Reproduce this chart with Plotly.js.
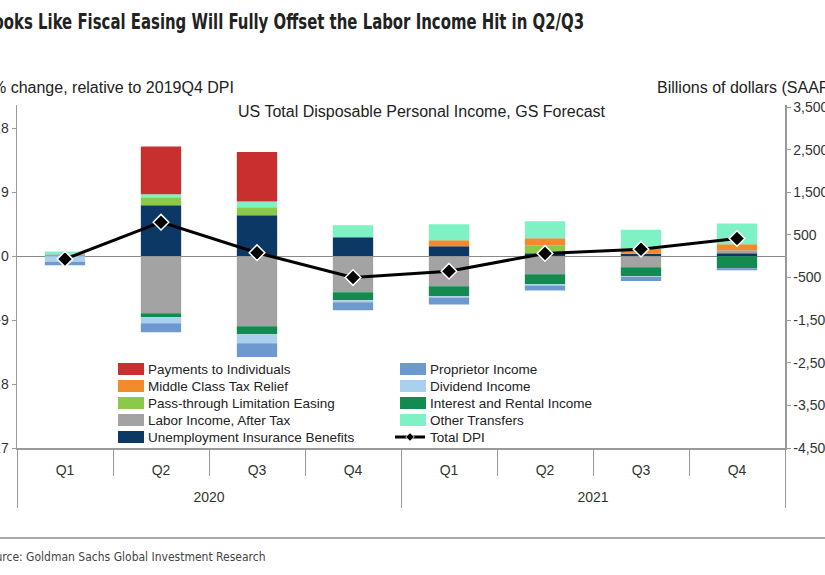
<!DOCTYPE html>
<html>
<head>
<meta charset="utf-8">
<script src="https://cdn.plot.ly/plotly-3.0.1.min.js"></script>
<style>
  html, body { margin:0; padding:0; background:#fff; overflow:hidden; }
  #wrap { position:relative; width:825px; height:575px; overflow:hidden; }
  #chart { position:absolute; left:-30px; top:0; width:880px; height:575px; }
</style>
</head>
<body>
<div id="wrap"><div id="chart"></div></div>
<script>
// ---- data (billions of dollars, SAAR, change vs 2019Q4) ----
const years    = ['2020','2020','2020','2020','2021','2021','2021','2021'];
const quarters = ['Q1','Q2','Q3','Q4','Q1','Q2','Q3','Q4'];

const unemploymentBenefits = [0, 1195, 960, 445, 234, 70, 60, 70];
const laborIncome          = [50, -1336, -1640, -844, -703, -420, -258, 70];
const passThrough          = [0, 188, 188, 0, 0, 190, 0, 0];
const middleClassRelief    = [0, 0, 0, 0, 140, 160, 117, 140];
const otherTransfers       = [60, 70, 140, 281, 375, 400, 445, 490];
const paymentsToIndividuals= [0, 1125, 1160, 0, 0, 0, 0, 0];
const interestRental       = [0, -94, -188, -188, -234, -234, -211, -280];
const dividendIncome       = [-130, -140, -211, -47, -30, -30, -20, 0];
const proprietorIncome     = [-80, -211, -328, -188, -164, -117, -94, -47];
// total DPI, % change relative to 2019Q4 DPI
const totalDPI             = [-0.4, 4.8, 0.5, -3.0, -2.1, 0.4, 1.0, 2.5];

const leftTickVals  = [18, 9, 0, -9, -18, -27];
const leftTickText  = ['18', '9', '0', '-9', '-18', '-27'];
const rightTickVals = [3500, 2500, 1500, 500, -500, -1500, -2500, -3500, -4500];
const rightTickText = ['3,500', '2,500', '1,500', '500', '-500', '-1,500', '-2,500', '-3,500', '-4,500'];

// ---- styling ----
const FONT = 'Liberation Sans, Arial, sans-serif';
const NARROW = 'DejaVu Sans Condensed, Liberation Sans Narrow, Arial Narrow, Liberation Sans, sans-serif';
const x = [years, quarters];

function bar(name, y, color, legend, rank) {
  return {
    type: 'bar', name: name, x: x, y: y, yaxis: 'y',
    marker: { color: color, line: { width: 0 } },
    legend: legend, legendrank: rank, hoverinfo: 'name+y'
  };
}

const traces = [
  bar('Unemployment Insurance Benefits', unemploymentBenefits, '#0c3866', 'legend', 5),
  bar('Labor Income, After Tax', laborIncome, '#a3a3a3', 'legend', 4),
  bar('Pass-through Limitation Easing', passThrough, '#8cc84a', 'legend', 3),
  bar('Middle Class Tax Relief', middleClassRelief, '#f28a2e', 'legend', 2),
  bar('Other Transfers', otherTransfers, '#7ef2c4', 'legend2', 4),
  bar('Payments to Individuals', paymentsToIndividuals, '#c83030', 'legend', 1),
  bar('Interest and Rental Income', interestRental, '#138a50', 'legend2', 3),
  bar('Dividend Income', dividendIncome, '#a9d0ee', 'legend2', 2),
  bar('Proprietor Income', proprietorIncome, '#6e99cf', 'legend2', 1),
  {
    type: 'scatter', mode: 'lines+markers', name: 'Total DPI',
    x: x, y: totalDPI, yaxis: 'y2',
    line: { color: '#000', width: 3 },
    marker: { symbol: 'diamond', size: 12, color: '#000', line: { color: '#fff', width: 1.5 } },
    legend: 'legend2', legendrank: 5
  }
];

const layout = {
  width: 880, height: 575,
  margin: { l: 47, r: 65, t: 105, b: 127 },
  paper_bgcolor: '#fff', plot_bgcolor: '#fff',
  font: { family: FONT, size: 14, color: '#333' },
  barmode: 'relative', bargap: 0.58,
  showlegend: true,
  title: {
    text: 'Looks Like Fiscal Easing Will Fully Offset the Labor Income Hit in Q2/Q3',
    xref: 'container', x: 0.016, xanchor: 'left',
    yref: 'container', y: 0.962, yanchor: 'middle',
    font: { family: NARROW, size: 21, weight: 'bold', color: '#222' }
  },
  xaxis: {
    type: 'multicategory',
    showline: true, linecolor: '#999', linewidth: 1.5,
    ticks: 'outside', tickson: 'boundaries', ticklen: 26, tickcolor: '#999', tickwidth: 1,
    ticklabelstandoff: 9,
    showdividers: true, dividercolor: '#999', dividerwidth: 1,
    tickfont: { size: 14, color: '#333' },
    showgrid: false, zeroline: false, fixedrange: true
  },
  yaxis: {
    side: 'right', range: [-4500, 3550],
    tickmode: 'array', tickvals: rightTickVals, ticktext: rightTickText,
    ticks: 'outside', ticklen: 4, tickcolor: '#999',
    showline: true, linecolor: '#999', linewidth: 1.5,
    showgrid: false, zeroline: true, zerolinecolor: '#888', zerolinewidth: 1.2,
    tickfont: { size: 14, color: '#333' }, fixedrange: true
  },
  yaxis2: {
    side: 'left', overlaying: 'y', range: [-27, 27 * 3550 / 4500],
    tickmode: 'array', tickvals: leftTickVals, ticktext: leftTickText,
    ticks: 'outside', ticklen: 4, tickcolor: '#999',
    showline: true, linecolor: '#999', linewidth: 1.5,
    showgrid: false, zeroline: false,
    tickfont: { size: 14, color: '#333' }, fixedrange: true
  },
  legend: {
    x: 0.1185, xanchor: 'left', y: 0.275, yanchor: 'top',
    orientation: 'v', traceorder: 'normal', bgcolor: 'rgba(0,0,0,0)',
    font: { size: 13.5, color: '#222' }, tracegroupgap: 0, itemclick: false
  },
  legend2: {
    x: 0.4857, xanchor: 'left', y: 0.275, yanchor: 'top',
    orientation: 'v', traceorder: 'normal', bgcolor: 'rgba(0,0,0,0)',
    font: { size: 13.5, color: '#222' }, tracegroupgap: 0, itemclick: false
  },
  annotations: [
    { text: '% change, relative to 2019Q4 DPI', xref: 'paper', yref: 'paper',
      x: -0.0358, y: 1.052, xanchor: 'left', yanchor: 'middle', showarrow: false,
      font: { size: 16, color: '#222' } },
    { text: 'Billions of dollars (SAAR)', xref: 'paper', yref: 'paper',
      x: 0.8307, y: 1.052, xanchor: 'left', yanchor: 'middle', showarrow: false,
      font: { size: 16, color: '#222' } },
    { text: 'US Total Disposable Personal Income, GS Forecast', xref: 'paper', yref: 'paper',
      x: 0.527, y: 0.98, xanchor: 'center', yanchor: 'middle', showarrow: false,
      font: { size: 16, color: '#222' } },
    { text: 'Source: Goldman Sachs Global Investment Research', xref: 'paper', yref: 'paper',
      x: -0.048, y: -0.318, xanchor: 'left', yanchor: 'middle', showarrow: false,
      font: { family: NARROW, size: 12, color: '#444' } }
  ],
  shapes: [
    { type: 'line', xref: 'paper', yref: 'paper', x0: -0.1, x1: 1.1, y0: -0.2624, y1: -0.2624,
      line: { color: '#a8a8a8', width: 2 } }
  ]
};

Plotly.newPlot('chart', traces, layout, { displayModeBar: false, staticPlot: true }).then(function (gd) {
  // condensed headline like the original
  const t = gd.querySelector('text.gtitle');
  if (t) { t.setAttribute('textLength', '600'); t.setAttribute('lengthAdjust', 'spacingAndGlyphs'); }
  // year labels a little lower, dividers longer
  gd.querySelectorAll('g.xtick2 text').forEach(function (el) {
    el.setAttribute('transform', (el.getAttribute('transform') || '') + ' translate(0,18)');
  });
  gd.querySelectorAll('path.xdivider').forEach(function (p) {
    const d = p.getAttribute('d') || '';
    p.setAttribute('d', d.replace(/v([-\d.]+)/, function (m, v) { return 'v' + (parseFloat(v) + 20); }));
  });
  // tighter legend rows, wider swatches, small diamond for the line entry
  ['legend', 'legend2'].forEach(function (id) {
    const g = gd.querySelector('g.' + id);
    if (!g) return;
    const items = g.querySelectorAll('g.traces');
    if (!items.length) return;
    const ty0 = parseFloat(/translate\(([-\d.]+),\s*([-\d.]+)\)/.exec(items[0].getAttribute('transform'))[2]);
    items.forEach(function (it, i) {
      const m = /translate\(([-\d.]+),\s*([-\d.]+)\)/.exec(it.getAttribute('transform') || '');
      if (!m) return;
      it.setAttribute('transform', 'translate(' + parseFloat(m[1]) + ',' + (ty0 + i * 17) + ')');
      it.querySelectorAll('g.legendpoints path').forEach(function (p) {
        if ((p.getAttribute('d') || '') === 'M6,6H-6V-6H6Z') {
          p.setAttribute('d', 'M16,6H-10V-6H16Z');
        } else if (p.classList.contains('scatterpts')) {
          p.setAttribute('transform', (p.getAttribute('transform') || '') + ' scale(0.55)');
        }
      });
    });
  });
});
</script>
</body>
</html>
